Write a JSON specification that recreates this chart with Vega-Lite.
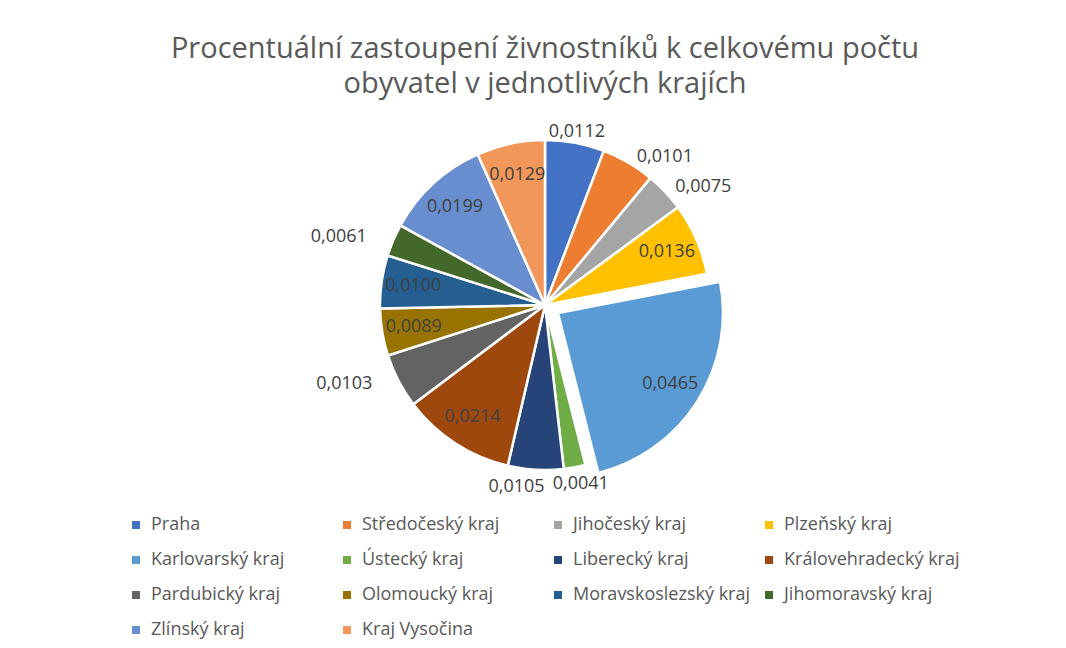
{
  "$schema": "https://vega.github.io/schema/vega-lite/v6.json",
  "width": 836,
  "height": 380,
  "autosize": {"type": "none"},
  "padding": {"left": 127, "top": 115, "right": 103, "bottom": 153},
  "background": "white",
  "title": {
    "text": ["Procentuální zastoupení živnostníků k celkovému počtu", "obyvatel v jednotlivých krajích"],
    "font": "Open Sans",
    "fontSize": 29,
    "fontWeight": "normal",
    "color": "#595959",
    "lineHeight": 35,
    "offset": 16,
    "anchor": "middle"
  },
  "config": {
    "locale": {"number": {"decimal": ",", "thousands": " ", "grouping": [3], "currency": ["", " Kč"]}},
    "view": {"stroke": null},
    "legend": {"gridAlign": "all"}
  },
  "data": {
    "values": [
      {"kraj": "Praha", "value": 0.0112, "order": 1},
      {"kraj": "Středočeský kraj", "value": 0.0101, "order": 2},
      {"kraj": "Jihočeský kraj", "value": 0.0075, "order": 3},
      {"kraj": "Plzeňský kraj", "value": 0.0136, "order": 4},
      {"kraj": "Karlovarský kraj", "value": 0.0465, "order": 5},
      {"kraj": "Ústecký kraj", "value": 0.0041, "order": 6},
      {"kraj": "Liberecký kraj", "value": 0.0105, "order": 7},
      {"kraj": "Královehradecký kraj", "value": 0.0214, "order": 8},
      {"kraj": "Pardubický kraj", "value": 0.0103, "order": 9},
      {"kraj": "Olomoucký kraj", "value": 0.0089, "order": 10},
      {"kraj": "Moravskoslezský kraj", "value": 0.0100, "order": 11},
      {"kraj": "Jihomoravský kraj", "value": 0.0061, "order": 12},
      {"kraj": "Zlínský kraj", "value": 0.0199, "order": 13},
      {"kraj": "Kraj Vysočina", "value": 0.0129, "order": 14}
    ]
  },
  "encoding": {
    "theta": {"field": "value", "type": "quantitative", "stack": true},
    "order": {"field": "order", "type": "quantitative"}
  },
  "layer": [
    {
      "mark": {"type": "arc", "outerRadius": 165, "stroke": "white", "strokeWidth": 2.5},
      "encoding": {
        "color": {
          "field": "kraj",
          "type": "nominal",
          "scale": {
            "domain": ["Praha", "Středočeský kraj", "Jihočeský kraj", "Plzeňský kraj", "Karlovarský kraj", "Ústecký kraj", "Liberecký kraj", "Královehradecký kraj", "Pardubický kraj", "Olomoucký kraj", "Moravskoslezský kraj", "Jihomoravský kraj", "Zlínský kraj", "Kraj Vysočina"],
            "range": ["#4472C4", "#ED7D31", "#A5A5A5", "#FFC000", "#5B9BD5", "#70AD47", "#264478", "#9E480E", "#636363", "#997300", "#255E91", "#43682B", "#698ED0", "#F1975A"]
          },
          "legend": {
            "title": null,
            "orient": "bottom",
            "direction": "horizontal",
            "columns": 4,
            "offset": 21,
            "symbolType": "square",
            "symbolSize": 64,
            "symbolStrokeWidth": 0,
            "labelFont": "Open Sans",
            "labelFontSize": 18,
            "labelColor": "#595959",
            "labelLimit": 250,
            "columnPadding": 10,
            "rowPadding": 17,
            "symbolOffset": 0,
            "labelOffset": 6
          }
        },
        "opacity": {"condition": {"test": "datum.kraj === 'Karlovarský kraj'", "value": 0}, "value": 1}
      }
    },
    {
      "mark": {"type": "arc", "outerRadius": 165, "stroke": "white", "strokeWidth": 2.5, "xOffset": 13, "yOffset": 8},
      "encoding": {
        "color": {"field": "kraj", "type": "nominal"},
        "opacity": {"condition": {"test": "datum.kraj === 'Karlovarský kraj'", "value": 1}, "value": 0}
      }
    },
    {
      "mark": {"type": "text", "radius": 133, "font": "Open Sans", "fontSize": 18, "color": "#404040"},
      "encoding": {
        "text": {"condition": {"test": "indexof(['Plzeňský kraj','Královehradecký kraj','Olomoucký kraj','Moravskoslezský kraj','Zlínský kraj','Kraj Vysočina'], datum.kraj) >= 0", "field": "value", "type": "quantitative", "format": ".4f"}, "value": ""}
      }
    },
    {
      "mark": {"type": "text", "radius": 133, "font": "Open Sans", "fontSize": 18, "color": "#404040", "xOffset": 13, "yOffset": 8},
      "encoding": {
        "text": {"condition": {"test": "datum.kraj === 'Karlovarský kraj'", "field": "value", "type": "quantitative", "format": ".4f"}, "value": ""}
      }
    },
    {
      "mark": {"type": "text", "radius": 176, "font": "Open Sans", "fontSize": 18, "color": "#404040"},
      "encoding": {
        "text": {"condition": {"test": "datum.kraj === 'Praha'", "field": "value", "type": "quantitative", "format": ".4f"}, "value": ""}
      }
    },
    {
      "mark": {"type": "text", "radius": 172, "font": "Open Sans", "fontSize": 18, "color": "#404040", "align": "left", "dx": 5},
      "encoding": {
        "text": {"condition": {"test": "indexof(['Středočeský kraj','Jihočeský kraj'], datum.kraj) >= 0", "field": "value", "type": "quantitative", "format": ".4f"}, "value": ""}
      }
    },
    {
      "mark": {"type": "text", "radius": 172, "font": "Open Sans", "fontSize": 18, "color": "#404040", "align": "right", "dx": -20},
      "encoding": {
        "text": {"condition": {"test": "indexof(['Pardubický kraj','Jihomoravský kraj'], datum.kraj) >= 0", "field": "value", "type": "quantitative", "format": ".4f"}, "value": ""}
      }
    },
    {
      "mark": {"type": "text", "radius": 182, "font": "Open Sans", "fontSize": 18, "color": "#404040", "align": "right", "dx": 10},
      "encoding": {
        "text": {"condition": {"test": "datum.kraj === 'Liberecký kraj'", "field": "value", "type": "quantitative", "format": ".4f"}, "value": ""}
      }
    },
    {
      "mark": {"type": "text", "radius": 182, "font": "Open Sans", "fontSize": 18, "color": "#404040", "align": "left", "dx": -25},
      "encoding": {
        "text": {"condition": {"test": "datum.kraj === 'Ústecký kraj'", "field": "value", "type": "quantitative", "format": ".4f"}, "value": ""}
      }
    }
  ]
}
